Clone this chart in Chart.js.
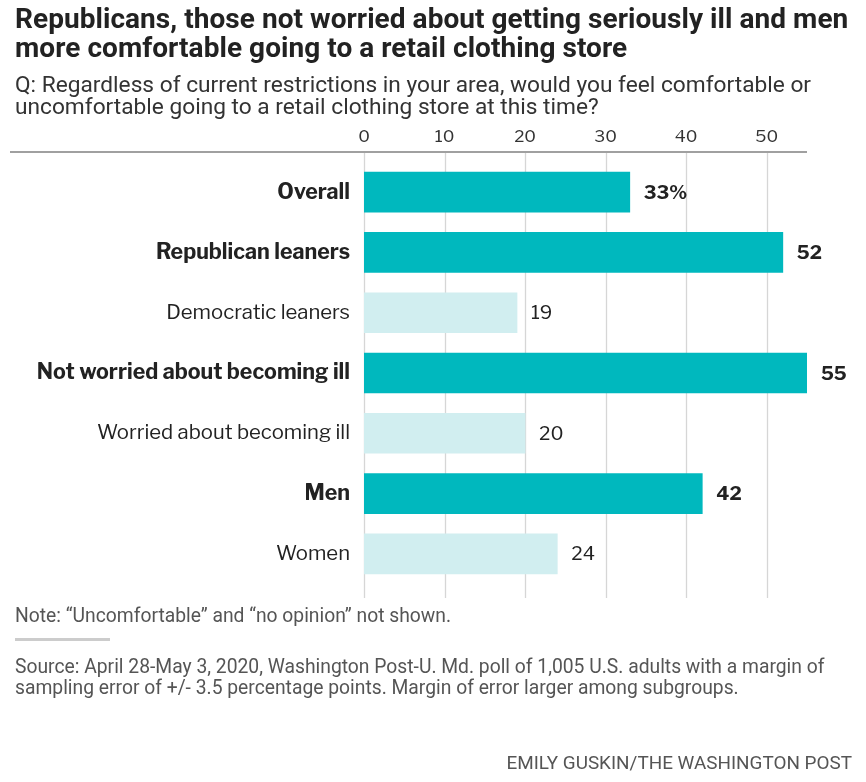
<!DOCTYPE html>
<html>
<head>
<meta charset="utf-8">
<script src="https://cdn.jsdelivr.net/npm/chart.js@4"></script>
<style>
  body { margin: 0; background: #fff; width: 866px; height: 782px; position: relative; overflow: hidden; font-family: "Roboto", sans-serif; color: #222; }
  #wrap { position: absolute; left: 0; top: 0; width: 866px; height: 782px; }
  .txt { position: absolute; left: 15px; white-space: nowrap; }
  #title { top: 5px; font-size: 28px; font-weight: bold; line-height: 28.5px; color: #222; letter-spacing: 0.05px; }
  #sub { top: 74px; font-size: 22.7px; line-height: 22px; color: #333; }
  #note { top: 604px; font-size: 19.3px; color: #555; }
  #rule { position: absolute; left: 15px; top: 638px; width: 95px; height: 3px; background: #ccc; }
  #source { top: 656px; font-size: 19.3px; line-height: 21px; color: #555; }
  #credit { position: absolute; right: 14px; top: 751px; font-size: 18.9px; color: #555; }
</style>
</head>
<body>
<div id="wrap"><canvas id="chart" width="866" height="782"></canvas></div>
<div class="txt" id="title">Republicans, those not worried about getting seriously ill and men<br>more comfortable going to a retail clothing store</div>
<div class="txt" id="sub">Q: Regardless of current restrictions in your area, would you feel comfortable or<br>uncomfortable going to a retail clothing store at this time?</div>
<div class="txt" id="note">Note: “Uncomfortable” and “no opinion” not shown.</div>
<div id="rule"></div>
<div class="txt" id="source">Source: April 28-May 3, 2020, Washington Post-U. Md. poll of 1,005 U.S. adults with a margin of<br>sampling error of +/- 3.5 percentage points. Margin of error larger among subgroups.</div>
<div id="credit">EMILY GUSKIN/THE WASHINGTON POST</div>
<script>
const categories = ["Overall", "Republican leaners", "Democratic leaners", "Not worried about becoming ill", "Worried about becoming ill", "Men", "Women"];
const values = [33, 52, 19, 55, 20, 42, 24];
const valueLabels = ["33%", "52", "19", "55", "20", "42", "24"];
const highlight = [true, true, false, true, false, true, false];
const xTicks = [0, 10, 20, 30, 40, 50];

const dark = "#00b8be";
const light = "#d1eef0";
const labelFont = '"Libre Franklin", "Roboto", sans-serif';

const gridPlugin = {
    id: "grid",
    beforeDatasetsDraw(chart) {
        const ctx = chart.ctx;
        const x = chart.scales.x;
        ctx.save();
        ctx.strokeStyle = "#d6d6d6";
        ctx.lineWidth = 1.3;
        xTicks.forEach(t => {
            const px = Math.round(x.getPixelForValue(t)) + 0.5;
            ctx.beginPath();
            ctx.moveTo(px, 152);
            ctx.lineTo(px, 598);
            ctx.stroke();
        });
        ctx.strokeStyle = "#a0a0a0";
        ctx.lineWidth = 2;
        ctx.beginPath();
        ctx.moveTo(10, 152);
        ctx.lineTo(x.getPixelForValue(55), 152);
        ctx.stroke();
        ctx.restore();
    },
    afterDatasetsDraw(chart) {
        const ctx = chart.ctx;
        const meta = chart.getDatasetMeta(0);
        ctx.save();
        ctx.textBaseline = "middle";
        ctx.textAlign = "left";
        meta.data.forEach((bar, i) => {
            ctx.font = (highlight[i] ? "bold " : "") + "19px " + labelFont;
            ctx.fillStyle = "#222";
            ctx.fillText(valueLabels[i], bar.x + 14, bar.y + 1);
        });
        ctx.restore();
    }
};

const ctx = document.getElementById("chart").getContext("2d");
new Chart(ctx, {
    type: "bar",
    data: {
        labels: categories,
        datasets: [{
            data: values,
            backgroundColor: highlight.map(h => h ? dark : light),
            borderWidth: 0,
            barThickness: 40
        }]
    },
    options: {
        indexAxis: "y",
        responsive: false,
        animation: false,
        devicePixelRatio: 1,
        layout: { padding: { top: 0, right: 59, bottom: 198, left: 0 } },
        plugins: { legend: { display: false }, tooltip: { enabled: false } },
        scales: {
            x: {
                position: "top",
                min: 0,
                max: 55,
                afterFit: s => { s.height = 162; },
                afterBuildTicks: s => { s.ticks = xTicks.map(v => ({ value: v })); },
                grid: { display: false },
                border: { display: false },
                ticks: {
                    padding: 7,
                    color: "#333",
                    font: { family: labelFont, size: 17 }
                }
            },
            y: {
                afterFit: s => { s.width = 364; },
                grid: { display: false },
                border: { display: false },
                ticks: {
                    padding: 6,
                    color: "#222",
                    font: ctx => highlight[ctx.index]
                        ? { family: labelFont, size: 21.4, weight: "bold" }
                        : { family: labelFont, size: 20.3, weight: "normal" }
                }
            }
        }
    },
    plugins: [gridPlugin]
});
</script>
</body>
</html>
